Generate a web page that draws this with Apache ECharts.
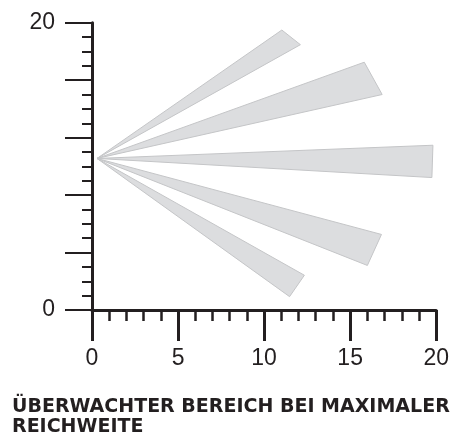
<!DOCTYPE html>
<html>
<head>
<meta charset="utf-8">
<script src="https://cdn.jsdelivr.net/npm/echarts@6/dist/echarts.min.js"></script>
<style>html,body{margin:0;padding:0;background:#fff}#c{width:452px;height:443px}</style>
</head>
<body>
<div id="c"></div>
<script>
// Data
const apex = [0.29, 10.55];
const tipAX = [11.03, 15.82, 19.81, 16.82, 12.34];
const tipAY = [19.49, 17.25, 11.47, 5.26, 2.42];
const tipBX = [12.11, 16.86, 19.75, 16.0, 11.48];
const tipBY = [18.47, 15.0, 9.22, 3.10, 0.93];
const xTicks = [0, 5, 10, 15, 20];
const yTickLabels = [0, 20];
const titleText = 'ÜBERWACHTER BEREICH BEI MAXIMALER\nREICHWEITE';

const ink = '#231f20';
const wedges = tipAX.map((x, i) => [x, tipAY[i], tipBX[i], tipBY[i]]);

const chart = echarts.init(document.getElementById('c'), null, {renderer: 'canvas'});
chart.setOption({
  animation: false,
  title: {
    text: titleText,
    left: 12, top: 397, padding: 0,
    textStyle: {fontFamily: 'DejaVu Sans', fontWeight: 'bold', fontSize: 19, lineHeight: 20, color: ink}
  },
  grid: {left: 92, right: 13.7, top: 22.7, bottom: 133, containLabel: false},
  xAxis: {
    type: 'value', min: 0, max: 20, interval: 5,
    splitLine: {show: false},
    axisLine: {show: true, onZero: false, lineStyle: {color: ink, width: 3}},
    axisTick: {show: true, length: 31, lineStyle: {color: ink, width: 3}},
    minorTick: {show: true, splitNumber: 5, length: 11, lineStyle: {color: ink, width: 2.5}},
    axisLabel: {margin: 37, fontFamily: 'Liberation Sans', fontSize: 23, color: ink,
      formatter: v => xTicks.includes(v) ? String(v) : ''}
  },
  yAxis: {
    type: 'value', min: 0, max: 20, interval: 4,
    splitLine: {show: false},
    axisLine: {show: true, onZero: false, lineStyle: {color: ink, width: 3}},
    axisTick: {show: true, length: 27, lineStyle: {color: ink, width: 2}},
    minorTick: {show: true, splitNumber: 4, length: 10, lineStyle: {color: ink, width: 2}},
    axisLabel: {margin: 37, fontFamily: 'Liberation Sans', fontSize: 23, color: ink,
      formatter: v => yTickLabels.includes(v) ? String(v) : ''}
  },
  series: [{
    type: 'custom',
    clip: false,
    encode: {x: [0, 2], y: [1, 3]},
    data: wedges,
    renderItem: (params, api) => {
      const p0 = api.coord(apex);
      const p1 = api.coord([api.value(0), api.value(1)]);
      const p2 = api.coord([api.value(2), api.value(3)]);
      return {
        type: 'polygon',
        shape: {points: [p0, p1, p2]},
        style: {fill: '#dcdddf', stroke: '#c4c5c7', lineWidth: 1}
      };
    }
  }]
});
</script>
</body>
</html>
